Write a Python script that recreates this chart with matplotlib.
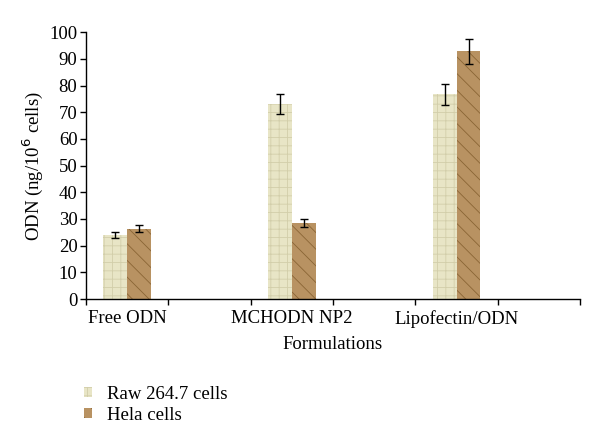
import numpy as np
import matplotlib.pyplot as plt
from matplotlib.patches import Patch

plt.rcParams['font.family'] = ['Liberation Serif', 'DejaVu Serif']
plt.rcParams['hatch.linewidth'] = 0.6

categories = ['Free ODN', 'MCHODN NP2', 'Lipofectin/ODN']
raw_vals = [24.0, 73.0, 76.8]
raw_err = [1.1, 3.7, 3.9]
hela_vals = [26.3, 28.5, 92.8]
hela_err = [1.3, 1.5, 4.6]
series_names = ['Raw 264.7 cells', 'Hela cells']

raw_color = '#e8e5c6'
raw_hatch_color = '#d2ceaa'
hela_color = '#b89262'
hela_hatch_color = '#8a6535'

fig = plt.figure(figsize=(6, 4.47), dpi=100)
ax = fig.add_axes([0.143, 0.331, 0.824, 0.597])

centers = np.array([0.5, 2.5, 4.5])
w = 0.29

ax.bar(centers - w / 2, raw_vals, width=w, color=raw_color,
       edgecolor=raw_hatch_color, hatch='++', linewidth=0)
ax.bar(centers + w / 2, hela_vals, width=w, color=hela_color,
       edgecolor=hela_hatch_color, hatch='\\\\', linewidth=0)
ax.errorbar(centers - w / 2, raw_vals, yerr=raw_err, fmt='none',
            ecolor='black', elinewidth=1, capsize=3, capthick=1)
ax.errorbar(centers + w / 2, hela_vals, yerr=hela_err, fmt='none',
            ecolor='black', elinewidth=1, capsize=3, capthick=1)

ax.set_xlim(0, 6)
ax.set_ylim(0, 100)
ax.set_yticks(np.arange(0, 101, 10))
ax.set_xticks(np.arange(0, 7, 1))
ax.set_xticklabels([])
ax.set_xticks(centers, minor=True)
ax.set_xticklabels(categories, minor=True, fontsize=13.5)
ax.tick_params(axis='x', which='minor', length=0, pad=8)
ax.tick_params(axis='x', which='major', length=4, width=1)
ax.tick_params(axis='y', length=4, width=1, labelsize=13.5, pad=2)

for s in ['top', 'right']:
    ax.spines[s].set_visible(False)
ax.spines['left'].set_linewidth(1)
ax.spines['bottom'].set_linewidth(1)

ax.set_ylabel('ODN (ng/10$^6$ cells)', fontsize=13.5, labelpad=3)
ax.set_xlabel('Formulations', fontsize=13.5, labelpad=6)

handles = [Patch(facecolor=raw_color, edgecolor=raw_hatch_color, hatch='++', linewidth=0),
           Patch(facecolor=hela_color, edgecolor=hela_hatch_color, hatch='\\\\', linewidth=0)]
fig.legend(handles, series_names, loc='upper left', bbox_to_anchor=(0.14, 0.137),
           frameon=False, fontsize=13.5, handlelength=0.4, handleheight=0.4,
           handletextpad=0.8, labelspacing=0.22, borderpad=0, borderaxespad=0)

plt.savefig('out.png', dpi=100)
